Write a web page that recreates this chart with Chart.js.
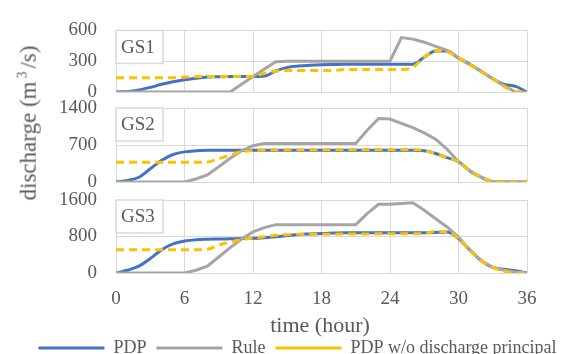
<!DOCTYPE html>
<html><head><meta charset="utf-8">
<script src="https://cdn.jsdelivr.net/npm/chart.js@4"></script>
<style>
html,body{margin:0;padding:0;background:#fff;}
#wrap{position:relative;width:569px;height:354px;overflow:hidden;font-family:"Liberation Serif",serif;color:#595959;}
canvas{position:absolute;left:0;top:0;}
#ytitle{position:absolute;left:28px;top:123px;transform:translate(-50%,-50%) rotate(-90deg);white-space:nowrap;font-size:23px;}
#ytitle sup{font-size:0.6em;margin:0 3px;}
#xtitle{position:absolute;left:320px;top:325px;transform:translate(-50%,-50%);font-size:22px;white-space:nowrap;}
</style></head>
<body><div id="wrap">
<canvas id="c1" width="569" height="354"></canvas>
<canvas id="c2" width="569" height="354"></canvas>
<canvas id="c3" width="569" height="354"></canvas>
<div id="ytitle">discharge (m<sup>3</sup>/s)</div>
<div id="xtitle">time (hour)</div>
</div>
<script>
const hours = [0,1,2,3,4,5,6,7,8,9,10,11,12,13,14,15,16,17,18,19,20,21,22,23,24,25,26,27,28,29,30,31,32,33,34,35,36];
const seriesNames = ['PDP', 'Rule', 'PDP w/o discharge principal'];
const panelNames = ['GS1', 'GS2', 'GS3'];
const xTicks = [0, 6, 12, 18, 24, 30, 36];

const gs1Pdp  = [0,5,20,45,75,100,120,135,145,148,150,150,150,155,205,240,253,260,265,268,270,270,270,270,270,270,270,340,400,400,330,270,200,130,75,55,0];
const gs1Rule = [0,0,0,0,0,0,0,0,0,0,0,75,150,225,295,300,300,300,300,300,300,300,300,300,300,530,515,485,445,405,330,265,200,130,60,0,0];
const gs1Wo   = [140,140,140,140,140,140,145,150,150,150,150,150,150,183,205,210,210,210,210,210,220,220,220,220,220,220,240,340,405,395,330,265,200,130,55,0,0];

const gs2Pdp  = [0,30,90,250,410,520,570,590,600,600,600,600,600,600,600,600,600,600,600,600,600,600,600,600,600,600,600,590,540,460,385,210,90,0,0,0,0];
const gs2Rule = [0,0,0,0,0,0,0,57,132,290,450,590,686,730,730,730,730,730,730,730,730,730,980,1200,1190,1110,1030,930,810,620,385,210,90,0,0,0,0];
const gs2Wo   = [375,375,375,375,375,375,375,375,380,440,510,570,595,605,610,610,610,610,610,615,615,615,615,615,615,615,615,595,540,460,385,210,90,0,0,0,0];

const gs3Pdp  = [0,60,150,315,510,640,700,730,740,745,750,755,760,775,795,820,845,855,865,875,880,880,880,880,880,880,880,880,890,900,755,500,270,125,80,50,0];
const gs3Rule = [0,0,0,0,0,0,0,60,150,350,555,745,900,995,1060,1060,1060,1060,1060,1060,1060,1060,1300,1505,1505,1525,1540,1375,1190,1010,790,500,270,125,60,20,0];
const gs3Wo   = [510,510,510,510,510,510,510,510,520,610,680,730,770,795,825,840,850,850,850,850,855,855,855,860,860,860,860,865,910,910,760,500,270,125,40,0,0];

const yMaxes = [600, 1400, 1600];
const ySteps = [150, 350, 400];

const FONT = "'Liberation Serif', serif";
const TXT = '#595959';

const toXY = arr => arr.map((v, i) => ({x: hours[i], y: v}));

const tagPlugin = {
  id: 'tag',
  afterDraw(chart, args, opts) {
    const {ctx, chartArea: a} = chart;
    ctx.save();
    ctx.fillStyle = '#ffffff';
    ctx.strokeStyle = '#d9d9d9';
    ctx.lineWidth = 1.5;
    ctx.fillRect(a.left, a.top, 47, 33);
    ctx.strokeRect(a.left, a.top, 47, 33);
    ctx.fillStyle = TXT;
    ctx.font = "19px 'Liberation Serif'";
    ctx.textBaseline = 'middle';
    ctx.fillText(opts.text, a.left + 5, a.top + 17.5);
    ctx.restore();
  }
};

function panel(id, idx, series, padTop, padBottom, isLast) {
  const yMax = yMaxes[idx], yStep = ySteps[idx];
  return new Chart(document.getElementById(id), {
    type: 'line',
    data: {
      datasets: [
        {label: seriesNames[0], data: toXY(series[0]), borderColor: '#4472C4', backgroundColor: '#4472C4', borderWidth: 3, pointRadius: 0, cubicInterpolationMode: 'monotone', order: 3},
        {label: seriesNames[1], data: toXY(series[1]), borderColor: '#A5A5A5', backgroundColor: '#A5A5A5', borderWidth: 3, pointRadius: 0, tension: 0, order: 2},
        {label: seriesNames[2], data: toXY(series[2]), borderColor: '#FFC000', backgroundColor: '#FFC000', borderWidth: 3, borderDash: [8, 5], pointRadius: 0, cubicInterpolationMode: 'monotone', order: 1}
      ]
    },
    options: {
      responsive: false,
      animation: false,
      events: [],
      layout: {padding: {left: 26, right: 0, top: padTop, bottom: padBottom}},
      plugins: {
        legend: {
          display: isLast,
          position: 'bottom',
          labels: {
            usePointStyle: true, pointStyle: 'line', pointStyleWidth: 66, boxHeight: 10,
            font: {family: FONT, size: 18}, color: TXT, padding: 10,
            sort: (a, b) => a.datasetIndex - b.datasetIndex
          }
        },
        tooltip: {enabled: false},
        tag: {text: panelNames[idx]}
      },
      scales: {
        x: {
          type: 'linear', min: 0, max: 36,
          afterBuildTicks: s => { s.ticks = xTicks.map(v => ({value: v})); },
          ticks: {display: isLast, font: {family: FONT, size: 19}, color: TXT, padding: 15, maxRotation: 0},
          grid: {color: '#d9d9d9', drawTicks: false, lineWidth: 1},
          border: {display: false},
          afterFit: s => { s.height = isLast ? (81 - padBottom - (s.chart.legend ? s.chart.legend.height : 0)) : 0; }
        },
        y: {
          min: 0, max: yMax,
          ticks: {stepSize: yStep, callback: v => (v % (2 * yStep) === 0 ? v : ''), font: {family: FONT, size: 19}, color: TXT, padding: 19},
          grid: {color: c => (c.tick && c.tick.value % (2 * yStep) === 0 ? '#d9d9d9' : '#f0f0f0'), drawTicks: false, lineWidth: 1},
          border: {display: false},
          afterFit: s => { s.width = 90; }
        },
        yr: {
          position: 'right', display: true,
          grid: {display: false}, ticks: {display: false}, border: {display: false},
          afterFit: s => { s.width = 42; }
        }
      }
    },
    plugins: [tagPlugin]
  });
}

panel('c1', 0, [gs1Pdp, gs1Rule, gs1Wo], 20, 262, false);
panel('c2', 1, [gs2Pdp, gs2Rule, gs2Wo], 108, 172, false);
panel('c3', 2, [gs3Pdp, gs3Rule, gs3Wo], 200, -13, true);
</script>
</body></html>
